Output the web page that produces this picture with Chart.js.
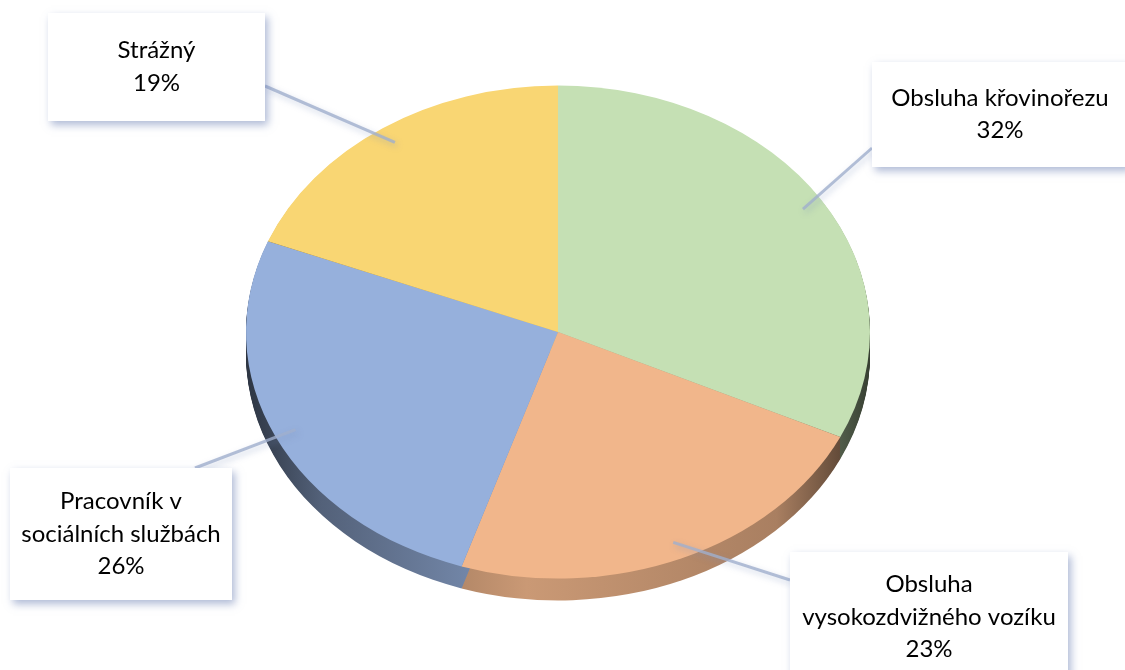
<!DOCTYPE html>
<html lang="cs">
<head>
<meta charset="utf-8">
<title>Profese</title>
<script src="https://cdn.jsdelivr.net/npm/chart.js@4/dist/chart.umd.min.js"></script>
<style>
  html, body { margin: 0; padding: 0; background: #ffffff; }
  #wrap { width: 1125px; height: 670px; }
</style>
</head>
<body>
<div id="wrap"><canvas id="pieChart" width="1125" height="670"></canvas></div>
<script>
// slice data, clockwise from the top
const labels = ['Obsluha křovinořezu', 'Obsluha vysokozdvižného vozíku', 'Pracovník v sociálních službách', 'Strážný'];
const shares = [32, 23, 26, 19];
const colors = ['#C5E0B4', '#F1B68B', '#96B0DC', '#F9D673'];

// callout text lines (one array per slice)
const calloutLines = [
  ['Obsluha křovinořezu', '32%'],
  ['Obsluha', 'vysokozdvižného vozíku', '23%'],
  ['Pracovník v', 'sociálních službách', '26%'],
  ['Strážný', '19%']
];

// callout boxes: x, y, w, h and where the leader leaves the box
const calloutBoxes = [
  { x: 872, y: 62, w: 256, h: 105, lx: 872, ly: 148 },
  { x: 790, y: 552, w: 278, h: 130, lx: 790, ly: 580 },
  { x: 10, y: 468, w: 222, h: 132, lx: 195, ly: 468 },
  { x: 48, y: 13, w: 217, h: 108, lx: 265, ly: 86 }
];

const TILT = 0.79;   // vertical squash of the pie
const DEPTH = 22;    // thickness of the pie side in px
const FONT = '24px Lato, "Open Sans", sans-serif';

function shade(hex, k) {
  const n = parseInt(hex.slice(1), 16);
  const r = Math.round(((n >> 16) & 255) * k);
  const g = Math.round(((n >> 8) & 255) * k);
  const b = Math.round((n & 255) * k);
  return `rgb(${r},${g},${b})`;
}

// squash the pie into an ellipse and give it a 3D side
const tiltPlugin = {
  id: 'tilt3d',
  beforeDatasetsDraw(chart) {
    const ctx = chart.ctx;
    const arcs = chart.getDatasetMeta(0).data;
    if (!arcs.length) return;
    const cx = arcs[0].x, cy = arcs[0].y, r = arcs[0].outerRadius;
    ctx.save();
    ctx.translate(cx, cy);
    ctx.scale(1, TILT);
    ctx.translate(-cx, -cy);

    arcs.forEach((arc, i) => {
      const grad = ctx.createLinearGradient(cx - r, 0, cx + r, 0);
      grad.addColorStop(0, shade(colors[i], 0.3));
      grad.addColorStop(0.12, shade(colors[i], 0.55));
      grad.addColorStop(0.45, shade(colors[i], 0.84));
      grad.addColorStop(0.85, shade(colors[i], 0.7));
      grad.addColorStop(1, shade(colors[i], 0.28));
      ctx.fillStyle = grad;
      for (let d = DEPTH; d > 0; d -= 1) {
        const oy = d / TILT;
        ctx.beginPath();
        ctx.moveTo(cx, cy + oy);
        ctx.arc(cx, cy + oy, r, arc.startAngle, arc.endAngle);
        ctx.closePath();
        ctx.fill();
      }
    });
  },
  afterDatasetsDraw(chart) {
    chart.ctx.restore();
  }
};

// white callout boxes with leader lines
const calloutPlugin = {
  id: 'callouts',
  afterDraw(chart) {
    const ctx = chart.ctx;
    const arcs = chart.getDatasetMeta(0).data;
    arcs.forEach((arc, i) => {
      const box = calloutBoxes[i];
      const mid = (arc.startAngle + arc.endAngle) / 2;
      const ax = arc.x + Math.cos(mid) * arc.outerRadius * 0.93;
      const ay = arc.y + Math.sin(mid) * arc.outerRadius * 0.93 * TILT;

      ctx.save();
      ctx.strokeStyle = 'rgba(160,175,205,0.8)';
      ctx.lineWidth = 3;
      ctx.shadowColor = 'rgba(120,140,185,0.45)';
      ctx.shadowBlur = 6;
      ctx.shadowOffsetX = 2;
      ctx.shadowOffsetY = 3;
      ctx.beginPath();
      ctx.moveTo(box.lx, box.ly);
      ctx.lineTo(ax, ay);
      ctx.stroke();

      ctx.fillStyle = '#ffffff';
      ctx.shadowColor = 'rgba(110,130,180,0.55)';
      ctx.shadowBlur = 8;
      ctx.shadowOffsetX = 3;
      ctx.shadowOffsetY = 4;
      ctx.fillRect(box.x, box.y, box.w, box.h);
      ctx.restore();

      ctx.save();
      ctx.fillStyle = '#000000';
      ctx.font = FONT;
      ctx.textAlign = 'center';
      ctx.textBaseline = 'middle';
      const lines = calloutLines[i];
      const lh = 32.5;
      const top = box.y + box.h / 2 - (lines.length - 1) * lh / 2;
      lines.forEach((t, j) => ctx.fillText(t, box.x + box.w / 2, top + j * lh));
      ctx.restore();
    });
  }
};

new Chart(document.getElementById('pieChart'), {
  type: 'pie',
  data: {
    labels: labels,
    datasets: [{
      data: shares,
      backgroundColor: colors,
      borderWidth: 0
    }]
  },
  options: {
    responsive: false,
    animation: false,
    layout: { padding: { left: 246, right: 255, top: 0, bottom: 6 } },
    plugins: {
      legend: { display: false },
      tooltip: { enabled: false }
    }
  },
  plugins: [tiltPlugin, calloutPlugin]
});
</script>
</body>
</html>
